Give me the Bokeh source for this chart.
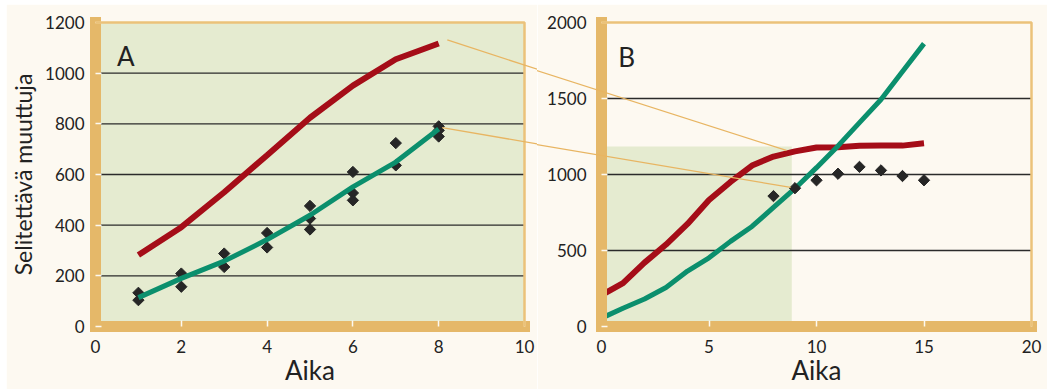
from bokeh.plotting import figure
from bokeh.layouts import row
from bokeh.models import Label, FixedTicker
from bokeh.embed import file_html
from bokeh.resources import INLINE

# ---------------- data ----------------
# Panel A
a_xticks = [0, 2, 4, 6, 8, 10]
a_yticks = [0, 200, 400, 600, 800, 1000, 1200]
a_line_x = [1, 2, 3, 4, 5, 6, 7, 8]
a_red = [282, 392, 530, 676, 824, 951, 1055, 1117]
a_green = [114, 190, 258, 343, 439, 551, 649, 780]
a_obs_x = [1, 1, 2, 2, 3, 3, 4, 4, 5, 5, 5, 6, 6, 6, 7, 7, 8, 8, 8]
a_obs_y = [133, 104, 209, 157, 288, 235, 369, 312, 476, 426, 383, 610, 527, 498, 724, 636, 790, 774, 750]

# Panel B
b_xticks = [0, 5, 10, 15, 20]
b_yticks = [0, 500, 1000, 1500, 2000]
b_line_x = [0, 1, 2, 3, 4, 5, 6, 7, 8, 9, 10, 11, 12, 13, 14, 15]
b_red = [207, 285, 420, 539, 675, 832, 951, 1059, 1118, 1152, 1178, 1180, 1189, 1190, 1190, 1205]
b_green = [55, 120, 181, 257, 365, 452, 560, 658, 784, 908, 1045, 1188, 1341, 1493, 1677, 1861]
b_obs_x = [8, 9, 10, 11, 12, 13, 14, 15]
b_obs_y = [858, 910, 962, 1005, 1050, 1027, 990, 962]
b_zoom_x = 8.85     # extent of panel A shown as shaded box in B
b_zoom_y = 1185

# connector lines: start in A (data), end in B (data)
conn_a = [(8.2, 1131), (8.08, 785)]
conn_b = [(8.6, 1158), (8.8, 915)]

# ---------------- style ----------------
CREAM = "#fdf9f1"
GREEN_BG = "#e5ebd0"
TAN = "#e5b869"
TAN_LINE = "#ebc27a"
CONN = "#e8b562"
RED = "#a50d18"
TEAL = "#0b8f6d"
DARK = "#262626"
FONT = "Lato"

# ---------------- layout geometry (page px) ----------------
PAGE_X0, PAGE_Y0 = 6, 4
W_TOTAL, H_TOTAL = 1041, 385
SPLIT = 537           # page x where panel A canvas ends and B begins
A_L, A_R, A_T, A_B = 93, 524, 22, 326
B_L, B_R, B_T, B_B = 601, 1031, 20, 327

a_xmax, a_ymax = a_xticks[-1], a_yticks[-1]
b_xmax, b_ymax = b_xticks[-1], b_yticks[-1]


def a_px(x, y):
    return A_L + x * (A_R - A_L) / a_xmax, A_B - y * (A_B - A_T) / a_ymax


def a_data(px, py):
    return (px - A_L) * a_xmax / (A_R - A_L), (A_B - py) * a_ymax / (A_B - A_T)


def b_px(x, y):
    return B_L + x * (B_R - B_L) / b_xmax, B_B - y * (B_B - B_T) / b_ymax


def b_data(px, py):
    return (px - B_L) * b_xmax / (B_R - B_L), (B_B - py) * b_ymax / (B_B - B_T)


def make_fig(width, left, right, top, bottom, xr, yr):
    p = figure(width=width, height=H_TOTAL, x_range=xr, y_range=yr,
               output_backend="svg", toolbar_location=None,
               min_border_left=left, min_border_right=right,
               min_border_top=top, min_border_bottom=bottom)
    p.background_fill_color = CREAM
    p.border_fill_color = CREAM
    p.outline_line_color = None
    p.xgrid.visible = False
    p.ygrid.visible = False
    return p


def style_axes(p, xticks, yticks, ylabel_standoff):
    p.xaxis.ticker = FixedTicker(ticks=xticks)
    p.yaxis.ticker = FixedTicker(ticks=yticks)
    for ax in (p.xaxis[0], p.yaxis[0]):
        ax.axis_line_color = TAN
        ax.axis_line_width = 11
        ax.axis_line_cap = "square"
        ax.major_tick_line_color = CREAM
        ax.major_tick_line_width = 1.5
        ax.major_tick_in = 6
        ax.major_tick_out = 0
        ax.minor_tick_line_color = None
        ax.major_label_text_font = FONT
        ax.major_label_text_font_size = "17px"
        ax.major_label_text_color = "#222222"
        ax.axis_label_text_font = FONT
        ax.axis_label_text_font_style = "normal"
        ax.axis_label_text_color = "#222222"
    p.xaxis.major_label_standoff = 13
    p.xaxis.axis_label = "Aika"
    p.xaxis.axis_label_text_font_size = "26px"
    p.xaxis.axis_label_standoff = -2
    p.yaxis.major_label_standoff = ylabel_standoff


# ---------------- Panel A ----------------
wA = SPLIT - PAGE_X0
pA = make_fig(wA, A_L - PAGE_X0, SPLIT - A_R, A_T - PAGE_Y0, PAGE_Y0 + H_TOTAL - A_B,
              (0, a_xmax), (0, a_ymax))
style_axes(pA, a_xticks, a_yticks, 11)
pA.yaxis.axis_label = "Selitettävä muuttuja"
pA.yaxis.axis_label_text_font_size = "23px"
pA.yaxis.axis_label_standoff = 5

pA.quad(left=0, right=a_xmax, bottom=0, top=a_ymax, fill_color=GREEN_BG,
        line_color=None, level="image")
pA.segment(x0=0, x1=a_xmax, y0=a_yticks[1:-1], y1=a_yticks[1:-1],
           line_color="#2b2b2b", line_width=1.3)
pA.line([0, a_xmax, a_xmax], [a_ymax, a_ymax, 0], line_color=TAN_LINE,
        line_width=2.5, level="overlay")
pA.line(a_line_x, a_red, line_color=RED, line_width=6)
pA.scatter(a_obs_x, a_obs_y, marker="square", angle=0.785398, size=8,
           fill_color=DARK, line_color=DARK)
pA.line(a_line_x, a_green, line_color=TEAL, line_width=5)
pA.add_layout(Label(x=0.5, y=1067, text="A", text_font=FONT,
                    text_font_size="26px", text_baseline="alphabetic",
                    text_color="#222222"))

# ---------------- Panel B ----------------
wB = W_TOTAL - wA
pB = make_fig(wB, B_L - SPLIT, PAGE_X0 + W_TOTAL - B_R, B_T - PAGE_Y0,
              PAGE_Y0 + H_TOTAL - B_B, (0, b_xmax), (0, b_ymax))
style_axes(pB, b_xticks, b_yticks, 15)

pB.quad(left=0, right=b_zoom_x, bottom=0, top=b_zoom_y, fill_color=GREEN_BG,
        line_color=None, level="image")
pB.segment(x0=0, x1=b_xmax, y0=b_yticks[1:-1], y1=b_yticks[1:-1],
           line_color="#2b2b2b", line_width=1.3)
pB.line([0, b_xmax, b_xmax], [b_ymax, b_ymax, 0], line_color=TAN_LINE,
        line_width=2.5, level="overlay")
pB.line(b_line_x, b_red, line_color=RED, line_width=6)
pB.line(b_line_x, b_green, line_color=TEAL, line_width=5)
pB.scatter(b_obs_x, b_obs_y, marker="square", angle=0.785398, size=8,
           fill_color=DARK, line_color=DARK)
pB.add_layout(Label(x=0.78, y=1776, text="B", text_font=FONT,
                    text_font_size="26px", text_baseline="alphabetic",
                    text_color="#222222"))

# ---------------- connectors across both canvases ----------------
for (ax_, ay_), (bx_, by_) in zip(conn_a, conn_b):
    p0 = a_px(ax_, ay_)
    p1 = b_px(bx_, by_)
    slope = (p1[1] - p0[1]) / (p1[0] - p0[0])
    py = p0[1] + (SPLIT - p0[0]) * slope
    ea = a_data(SPLIT + 2, py + 2 * slope)
    sb = b_data(SPLIT - 2, py - 2 * slope)
    pA.line([ax_, ea[0]], [ay_, ea[1]], line_color=CONN, line_width=1.3,
            level="overlay")
    pB.line([sb[0], bx_], [sb[1], by_], line_color=CONN, line_width=1.3,
            level="overlay")

layout = row(pA, pB, margin=(PAGE_Y0, 0, 0, PAGE_X0))
open("out.html", "w").write(file_html(layout, INLINE))
